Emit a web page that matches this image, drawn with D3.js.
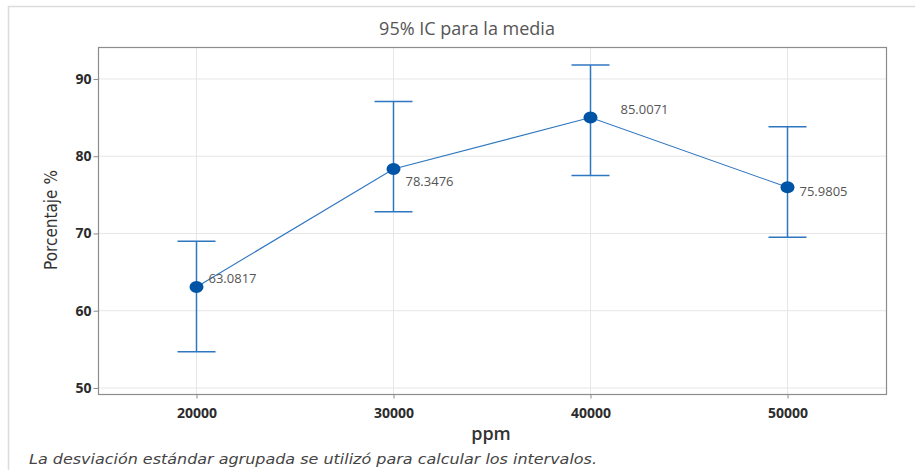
<!DOCTYPE html>
<html>
<head>
<meta charset="utf-8">
<script src="https://cdn.jsdelivr.net/npm/d3@7"></script>
<style>
  body { margin: 0; background: #fff; }
  svg { display: block; }
</style>
</head>
<body>
<svg id="chart" width="915" height="470"></svg>
<script>
// Concentration levels (ppm)
const ppm = [20000, 30000, 40000, 50000];
// Mean percentage at each level
const means = [63.0817, 78.3476, 85.0071, 75.9805];
// 95% confidence interval bounds
const lower = [54.7, 72.8, 77.5, 69.5];
const upper = [69.0, 87.1, 91.8, 83.8];
// Axis ticks
const xTicks = [20000, 30000, 40000, 50000];
const yTicks = [50, 60, 70, 80, 90];

const svg = d3.select("#chart");
const W = 915, H = 470;
const plot = { left: 98, right: 886, top: 47, bottom: 394 };

const blue = "#0054a6";
const lineBlue = "#2f76c0";

// Outer frame (top and left edges)
svg.append("line").attr("x1", 8).attr("x2", W).attr("y1", 6.5).attr("y2", 6.5)
  .attr("stroke", "#dcdcdc").attr("stroke-width", 1.5);
svg.append("line").attr("x1", 8.5).attr("x2", 8.5).attr("y1", 6).attr("y2", H)
  .attr("stroke", "#dcdcdc").attr("stroke-width", 1.5);

const x = d3.scaleLinear().domain([15000, 55000]).range([plot.left, plot.right]);
const y = d3.scaleLinear().domain([49.22, 94.14]).range([plot.bottom, plot.top]);

// Gridlines
const grid = svg.append("g");
grid.selectAll(".gx").data(xTicks).join("line")
  .attr("x1", d => x(d)).attr("x2", d => x(d))
  .attr("y1", plot.top).attr("y2", plot.bottom)
  .attr("stroke", "#e6e6e6").attr("stroke-width", 1);
grid.selectAll(".gy").data(yTicks).join("line")
  .attr("x1", plot.left).attr("x2", plot.right)
  .attr("y1", d => y(d)).attr("y2", d => y(d))
  .attr("stroke", "#e6e6e6").attr("stroke-width", 1);

// Plot border
svg.append("rect")
  .attr("x", plot.left + 0.5).attr("y", plot.top + 0.5)
  .attr("width", plot.right - plot.left).attr("height", plot.bottom - plot.top)
  .attr("fill", "none").attr("stroke", "#8c8c8c").attr("stroke-width", 1.2);

// Axes
const xAxis = svg.append("g")
  .attr("transform", `translate(0,${plot.bottom + 0.5})`)
  .call(d3.axisBottom(x).tickValues(xTicks).tickFormat(d3.format("d")).tickSize(4).tickSizeOuter(0));
const yAxis = svg.append("g")
  .attr("transform", `translate(${plot.left + 0.5},0)`)
  .call(d3.axisLeft(y).tickValues(yTicks).tickFormat(d3.format("d")).tickSize(5).tickSizeOuter(0));
[xAxis, yAxis].forEach(a => {
  a.select(".domain").remove();
  a.selectAll(".tick line").attr("stroke", "#8c8c8c");
  a.selectAll(".tick text")
    .attr("fill", "#2b2b2b")
    .style("font-family", "'Open Sans', sans-serif")
    .style("font-weight", "700")
    .style("font-size", "14px");
});
xAxis.selectAll(".tick text").attr("dy", "1.15em");
yAxis.selectAll(".tick text").attr("x", -7);

// Title
svg.append("text").attr("x", 467).attr("y", 35).attr("text-anchor", "middle")
  .attr("fill", "#555").style("font-family", "'Open Sans', sans-serif")
  .style("font-size", "18px").text("95% IC para la media");

// Axis titles
svg.append("text").attr("x", 491).attr("y", 440).attr("text-anchor", "middle")
  .attr("fill", "#333").style("font-family", "'Open Sans', sans-serif")
  .style("font-size", "18px").style("font-weight", "600").text("ppm");
svg.append("text")
  .attr("transform", `translate(57,220) rotate(-90)`)
  .attr("text-anchor", "middle").attr("fill", "#333")
  .style("font-family", "'Liberation Sans Narrow', 'DejaVu Sans Condensed', sans-serif")
  .style("font-size", "17px").text("Porcentaje %");

// Footnote
svg.append("text").attr("x", 29).attr("y", 464)
  .attr("fill", "#444").style("font-family", "'DejaVu Sans', sans-serif")
  .style("font-style", "italic").style("font-size", "13.5px")
  .attr("textLength", 568).attr("lengthAdjust", "spacingAndGlyphs")
  .text("La desviación estándar agrupada se utilizó para calcular los intervalos.");

// Data rows
const rows = ppm.map((p, i) => ({ p, m: means[i], lo: lower[i], hi: upper[i] }));

// Connecting line through the means
svg.append("path").datum(rows)
  .attr("d", d3.line().x(d => x(d.p)).y(d => y(d.m)))
  .attr("fill", "none").attr("stroke", lineBlue).attr("stroke-width", 1.1);

// Interval bars
const cap = 19;
const eb = svg.append("g").attr("stroke", lineBlue).attr("stroke-width", 1.5);
eb.selectAll(".v").data(rows).join("line")
  .attr("x1", d => x(d.p)).attr("x2", d => x(d.p))
  .attr("y1", d => y(d.lo)).attr("y2", d => y(d.hi));
eb.selectAll(".t").data(rows).join("line")
  .attr("x1", d => x(d.p) - cap).attr("x2", d => x(d.p) + cap)
  .attr("y1", d => y(d.hi)).attr("y2", d => y(d.hi));
eb.selectAll(".b").data(rows).join("line")
  .attr("x1", d => x(d.p) - cap).attr("x2", d => x(d.p) + cap)
  .attr("y1", d => y(d.lo)).attr("y2", d => y(d.lo));

// Mean markers
svg.selectAll(".pt").data(rows).join("ellipse")
  .attr("cx", d => x(d.p)).attr("cy", d => y(d.m))
  .attr("rx", 7).attr("ry", 6).attr("fill", blue);

// Value labels
const labelOffsets = [[12, -4], [12, 17], [30, -4], [12, 9]];
svg.selectAll(".lbl").data(rows).join("text")
  .attr("x", (d, i) => x(d.p) + labelOffsets[i][0])
  .attr("y", (d, i) => y(d.m) + labelOffsets[i][1])
  .attr("fill", "#555").style("font-family", "'Open Sans', sans-serif")
  .style("font-size", "13px")
  .text(d => d3.format(".4f")(d.m));
</script>
</body>
</html>
